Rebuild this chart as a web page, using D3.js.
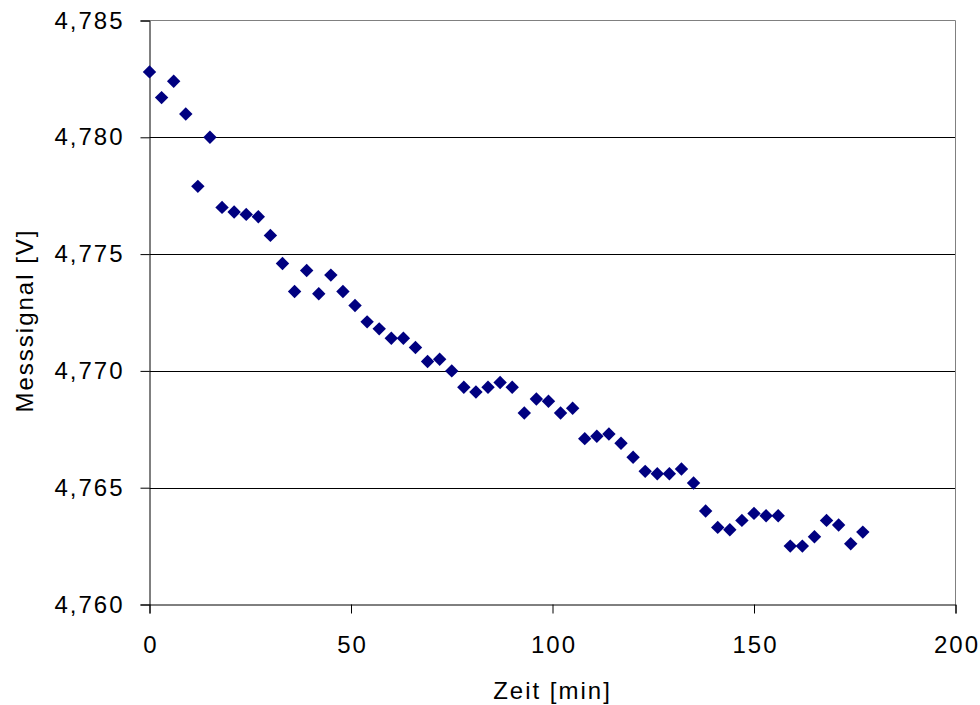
<!DOCTYPE html>
<html>
<head>
<meta charset="utf-8">
<script src="https://cdn.jsdelivr.net/npm/d3@7"></script>
<style>
  body { margin: 0; background: #fff; }
  svg text { font-family: "Liberation Sans", Arial, sans-serif; font-size: 24px; letter-spacing: 2px; fill: #000; }
</style>
</head>
<body>
<svg id="chart" width="980" height="705"></svg>
<script>
// Zeit [min]
const times = [0, 3, 6, 9, 12, 15, 18, 21, 24, 27, 30, 33, 36, 39, 42, 45, 48, 51, 54, 57,
  60, 63, 66, 69, 72, 75, 78, 81, 84, 87, 90, 93, 96, 99, 102, 105, 108, 111, 114, 117,
  120, 123, 126, 129, 132, 135, 138, 141, 144, 147, 150, 153, 156, 159, 162, 165, 168, 171, 174, 177];
// Messsignal [V]
const signal = [4.7828, 4.7817, 4.7824, 4.7810, 4.7779, 4.7800, 4.7770, 4.7768, 4.7767, 4.7766,
  4.7758, 4.7746, 4.7734, 4.7743, 4.7733, 4.7741, 4.7734, 4.7728, 4.7721, 4.7718,
  4.7714, 4.7714, 4.7710, 4.7704, 4.7705, 4.7700, 4.7693, 4.7691, 4.7693, 4.7695,
  4.7693, 4.7682, 4.7688, 4.7687, 4.7682, 4.7684, 4.7671, 4.7672, 4.7673, 4.7669,
  4.7663, 4.7657, 4.7656, 4.7656, 4.7658, 4.7652, 4.7640, 4.7633, 4.7632, 4.7636,
  4.7639, 4.7638, 4.7638, 4.7625, 4.7625, 4.7629, 4.7636, 4.7634, 4.7626, 4.7631];
const xTicks = [0, 50, 100, 150, 200];
const yTicks = [4.760, 4.765, 4.770, 4.775, 4.780, 4.785];

const svg = d3.select('#chart');
const plotLeft = 149.5, plotRight = 955.5, plotTop = 20.5, plotBottom = 604.5;

const x = d3.scaleLinear().domain([0, 200]).range([plotLeft, plotRight]);
const y = d3.scaleLinear().domain([4.760, 4.785]).range([plotBottom, plotTop]);
const fmt = d3.formatLocale({ decimal: ',', thousands: '.', grouping: [3], currency: ['', ' €'] }).format('.3f');

// gridlines
svg.append('g')
  .selectAll('line')
  .data(yTicks.slice(1, -1))
  .enter()
  .append('line')
  .attr('x1', plotLeft).attr('x2', plotRight)
  .attr('y1', (d) => Math.round(y(d)) + 0.5).attr('y2', (d) => Math.round(y(d)) + 0.5)
  .style('stroke', '#000');

// plot border top / right
svg.append('path')
  .attr('d', `M${plotLeft},${plotTop}H${plotRight}V${plotBottom}`)
  .style('fill', 'none')
  .style('stroke', '#808080');

// axes
const yAxis = svg.append('g')
  .attr('transform', `translate(${plotLeft},0)`)
  .call(d3.axisLeft(y).tickValues(yTicks).tickFormat(fmt).tickSize(9).tickPadding(16));
const xAxis = svg.append('g')
  .attr('transform', `translate(0,${plotBottom})`)
  .call(d3.axisBottom(x).tickValues(xTicks).tickSize(9).tickPadding(22));

[yAxis, xAxis].forEach((ax) => {
  ax.select('.domain').style('stroke', '#000');
  ax.selectAll('.tick line').style('stroke', '#000');
  ax.attr('font-size', null).attr('font-family', null);
  ax.selectAll('text').style('font-size', '24px');
});
xAxis.selectAll('.tick text').attr('dx', '1px');

// markers
const diamond = d3.symbol(d3.symbolSquare).size(90);
svg.append('g')
  .selectAll('path')
  .data(times.map((t, i) => ({ t: t, v: signal[i] })))
  .enter()
  .append('path')
  .attr('d', diamond)
  .attr('transform', (d) => `translate(${x(d.t)},${y(d.v)}) rotate(45)`)
  .style('fill', '#000080');

// axis titles
svg.append('text')
  .attr('x', (plotLeft + plotRight) / 2)
  .attr('y', 699)
  .attr('text-anchor', 'middle')
  .text('Zeit [min]');

svg.append('text')
  .attr('transform', `translate(33,${(plotTop + plotBottom) / 2 + 8}) rotate(-90)`)
  .attr('text-anchor', 'middle')
  .text('Messsignal [V]');
</script>
</body>
</html>
